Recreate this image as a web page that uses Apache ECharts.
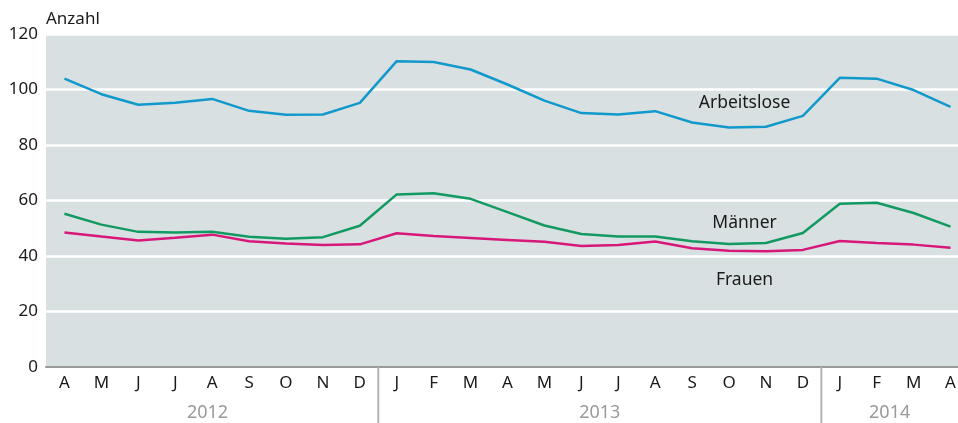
<!DOCTYPE html>
<html>
<head>
<meta charset="utf-8">
<script src="https://cdn.jsdelivr.net/npm/echarts@6/dist/echarts.min.js"></script>
<style>html,body{margin:0;padding:0;background:#fff}#c{width:958px;height:423px}</style>
</head>
<body>
<div id="c"></div>
<script>
const months = ['A','M','J','J','A','S','O','N','D','J','F','M','A','M','J','J','A','S','O','N','D','J','F','M','A'];
const years = ['2012','2013','2014'];
const yearStart = [0, 9, 21];
const arbeitslose = [103.9, 98.3, 94.5, 95.2, 96.6, 92.3, 90.9, 91.0, 95.2, 110.2, 109.9, 107.2, 101.8, 96.0, 91.5, 91.0, 92.2, 88.1, 86.3, 86.6, 90.5, 104.2, 103.9, 99.8, 93.7];
const maenner = [55.2, 51.3, 48.7, 48.5, 48.7, 46.9, 46.2, 46.8, 50.9, 62.2, 62.6, 60.6, 55.8, 51.0, 47.9, 47.0, 47.0, 45.3, 44.3, 44.7, 48.3, 58.8, 59.2, 55.5, 50.6];
const frauen = [48.5, 47.0, 45.6, 46.6, 47.7, 45.3, 44.5, 44.0, 44.2, 48.2, 47.2, 46.5, 45.8, 45.1, 43.6, 44.0, 45.2, 42.8, 41.9, 41.7, 42.2, 45.4, 44.7, 44.1, 43.0];
const seriesNames = ['Arbeitslose', 'Männer', 'Frauen'];
const yTicks = [0, 20, 40, 60, 80, 100, 120];

const FONT = '"Noto Sans", sans-serif';
const chart = echarts.init(document.getElementById('c'), null, {renderer: 'canvas'});
const mkLine = (name, data, color) => ({
  name, type: 'line', data, symbol: 'none', smooth: false,
  lineStyle: {color, width: 2.5}, itemStyle: {color}, animation: false
});
chart.setOption({
  animation: false,
  grid: {left: 46, width: 923, top: 34, bottom: 56, show: true, backgroundColor: '#d9e0e1', borderWidth: 0,
         containLabel: false, outerBoundsMode: 'none'},
  xAxis: {
    type: 'category', data: months, boundaryGap: true,
    axisLine: {lineStyle: {color: '#9a9a9a', width: 2}},
    axisTick: {show: false},
    axisLabel: {color: '#1a1a1a', fontSize: 17, fontFamily: FONT, margin: 8, interval: 0}
  },
  yAxis: {
    type: 'value', min: yTicks[0], max: yTicks[yTicks.length - 1], interval: 20,
    name: 'Anzahl', nameLocation: 'end', nameGap: 6,
    nameTextStyle: {color: '#1a1a1a', fontSize: 17, fontFamily: FONT, align: 'left', verticalAlign: 'bottom'},
    axisLine: {show: false}, axisTick: {show: false},
    axisLabel: {color: '#1a1a1a', fontSize: 17, fontFamily: FONT, margin: 8},
    splitLine: {lineStyle: {color: '#ffffff', width: 2.5}}
  },
  series: [
    mkLine(seriesNames[0], arbeitslose, '#1199cc'),
    mkLine(seriesNames[2], frauen, '#d8177a'),
    mkLine(seriesNames[1], maenner, '#139a62')
  ]
});

const px = i => chart.convertToPixel({xAxisIndex: 0}, i);
const py = v => chart.convertToPixel({yAxisIndex: 0}, v);
const W = chart.getWidth(), H = chart.getHeight();
const step = px(1) - px(0);
const seps = yearStart.slice(1).map(i => (px(i - 1) + px(i)) / 2);
const bounds = [px(0) - step * 0.75, ...seps, W];
const g = [];
seps.forEach(x => g.push({type: 'line', shape: {x1: x, y1: py(0), x2: x, y2: H}, style: {stroke: '#b3b3b3', lineWidth: 2}, z: 10}));
years.forEach((y, k) => g.push({
  type: 'text', x: (bounds[k] + bounds[k + 1]) / 2, y: 413,
  style: {text: y, fill: '#9a9a9a', font: '18px ' + FONT, textAlign: 'center', textVerticalAlign: 'middle'}
}));
const lbl = [[seriesNames[0], 95], [seriesNames[1], 52], [seriesNames[2], 31.5]];
lbl.forEach(([t, v]) => g.push({
  type: 'text', x: px(18) + step * 0.42, y: py(v), z: 20,
  style: {text: t, fill: '#1a1a1a', font: '17.5px ' + FONT, textAlign: 'center', textVerticalAlign: 'middle'}
}));
chart.setOption({graphic: g});
</script>
</body>
</html>
